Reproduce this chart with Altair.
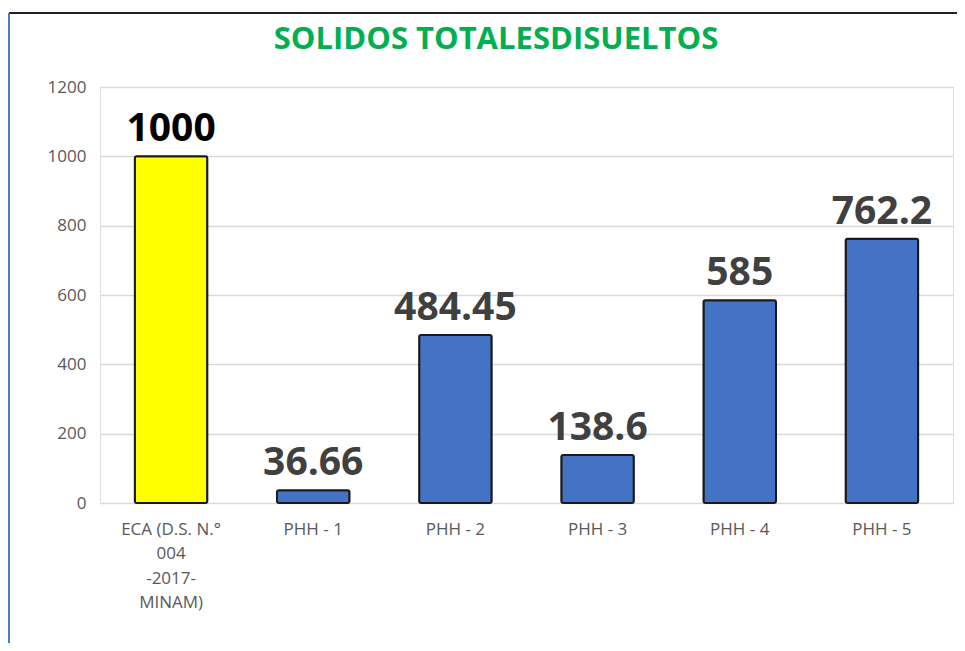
import altair as alt
import pandas as pd

categories = ["ECA (D.S. N.°\n004\n-2017-\nMINAM)", "PHH - 1", "PHH - 2", "PHH - 3", "PHH - 4", "PHH - 5"]
values = [1000, 36.66, 484.45, 138.6, 585, 762.2]
labels = ["1000", "36.66", "484.45", "138.6", "585", "762.2"]
is_standard = [True, False, False, False, False, False]

df = pd.DataFrame({"cat": categories, "val": values, "lab": labels, "std": is_standard})

x = alt.X("cat:N", sort=categories, title=None,
          scale=alt.Scale(paddingInner=0.49, paddingOuter=0.245),
          axis=alt.Axis(labelAngle=0, labelExpr="split(datum.value, '\\n')",
                        labelFont="Open Sans", labelFontSize=17, labelColor="#595959",
                        labelPadding=18, labelLineHeight=24.5, ticks=False, domain=False,
                        labelBaseline="top"))
y = alt.Y("val:Q", title=None,
          scale=alt.Scale(domain=[0, 1200], nice=False),
          axis=alt.Axis(values=[0, 200, 400, 600, 800, 1000, 1200], format="d", labelFont="Open Sans",
                        labelFontSize=17, labelColor="#595959", labelPadding=14,
                        ticks=False, domain=False, gridColor="#d9d9d9", gridWidth=1.5))

bars = alt.Chart(df).mark_bar(stroke="#1a1a1a", strokeWidth=2, cornerRadius=2).encode(
    x=x, y=y,
    color=alt.Color("std:N", scale=alt.Scale(domain=[True, False], range=["#FFFF00", "#4472C4"]), legend=None),
)

text = alt.Chart(df).mark_text(font="Open Sans", fontWeight="bold", fontSize=39, dy=-7,
                               baseline="bottom").encode(
    x=alt.X("cat:N", sort=categories),
    y=alt.Y("val:Q"),
    text="lab:N",
    color=alt.Color("std:N", scale=alt.Scale(domain=[True, False], range=["#000000", "#404040"]), legend=None),
)

frame_data = alt.Data(values=[{"t": "SOLIDOS TOTALESDISUELTOS"}])
top_line = alt.Chart(frame_data).mark_rule(color="#222222", strokeWidth=2).encode(
    x=alt.value(-91), x2=alt.value(870), y=alt.value(-74))
left_line = alt.Chart(frame_data).mark_rule(color="#4a7ebb", strokeWidth=2).encode(
    x=alt.value(-91), y=alt.value(-74), y2=alt.value(560))
title = alt.Chart(frame_data).mark_text(font="Open Sans", fontWeight="bold", fontSize=31,
                                         color="#00B050", baseline="middle", align="center").encode(
    x=alt.value(396), y=alt.value(-47), text="t:N")

chart = alt.layer(bars, text, top_line, left_line, title).resolve_scale(color="independent").properties(
    width=853, height=416,
    autosize=alt.AutoSizeParams(type="none"),
    padding={"left": 92, "top": 79, "right": 4, "bottom": 140},
).configure_view(stroke=None).configure(background="white")

chart.save("out.html", embed_options={"renderer": "svg", "actions": False})
